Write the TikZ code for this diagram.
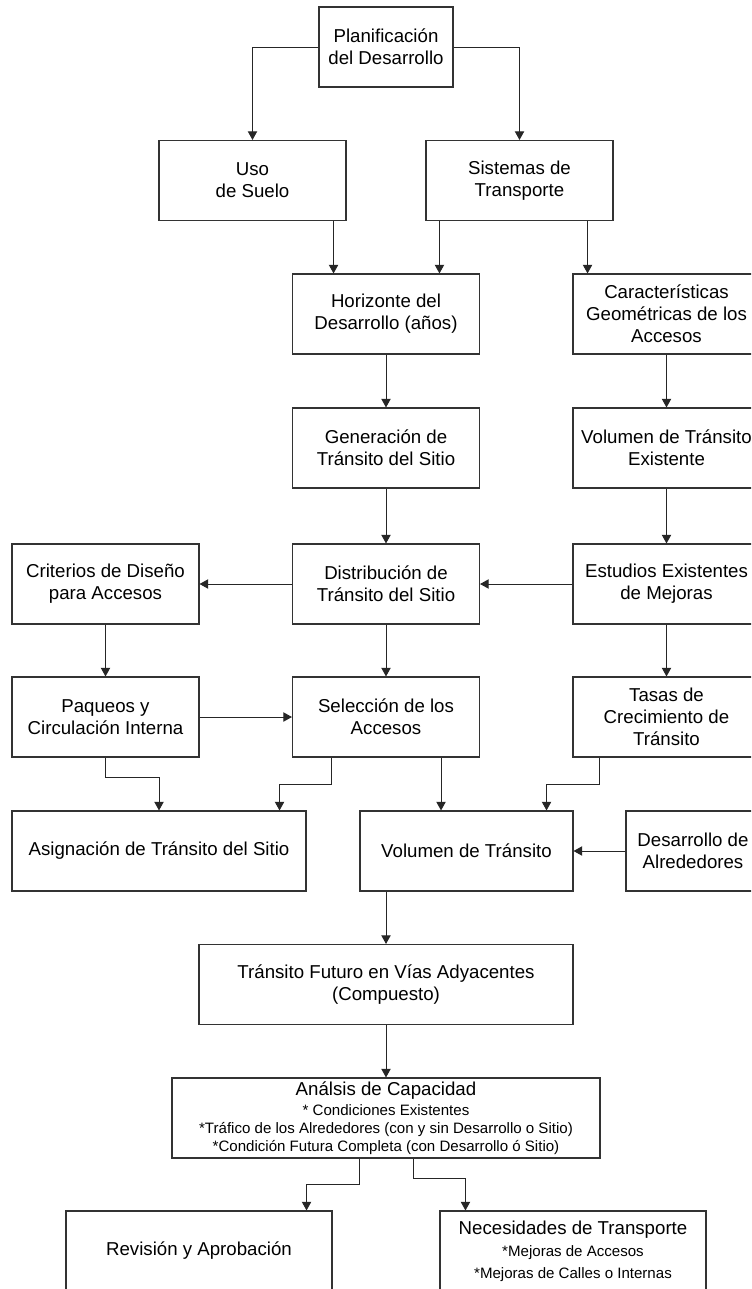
\documentclass[tikz,border=0pt]{standalone}
\usepackage{fontspec}
\setmainfont{Liberation Sans}
\usetikzlibrary{arrows.meta,calc}

\newcommand{\chica}{\fontsize{11.3}{13.5}\selectfont}

\tikzset{
  caja/.style={draw=black!80, line width=0.8pt, rectangle, align=center, inner sep=0pt,
    minimum height=60pt, font=\fontsize{14}{16.5}\selectfont},
  flecha/.style={draw=black!85, line width=0.75pt, -{Triangle[length=6.5pt,width=7pt]}},
}

\begin{document}
\begin{tikzpicture}[x=0.75pt,y=-0.75pt]
    \useasboundingbox (0,0) rectangle (751,1289);
    \clip (0,0) rectangle (751,1289);
    \node[caja, minimum width=100.5pt] (plan) at (386,47) {Planificación\\del Desarrollo};
    \node[caja, minimum width=140.25pt] (uso) at (252.5,180.5) {Uso\\de Suelo};
    \node[caja, minimum width=140.25pt] (sist) at (519.5,180.5) {Sistemas de\\Transporte};
    \node[caja, minimum width=140.25pt] (hori) at (386,314) {Horizonte del\\Desarrollo (años)};
    \node[caja, minimum width=140.25pt] (cara) at (666.5,314) {Características\\Geométricas de los\\Accesos};
    \node[caja, minimum width=140.25pt] (gene) at (386,448) {Generación de\\Tránsito del Sitio};
    \node[caja, minimum width=140.25pt] (vole) at (666.5,448) {Volumen de Tránsito\\Existente};
    \node[caja, minimum width=140.25pt] (crit) at (105.5,584) {Criterios de Diseño\\para Accesos};
    \node[caja, minimum width=140.25pt] (dist) at (386,584) {Distribución de\\Tránsito del Sitio};
    \node[caja, minimum width=140.25pt] (estu) at (666.5,584) {Estudios Existentes\\de Mejoras};
    \node[caja, minimum width=140.25pt] (paq) at (105.5,717) {Paqueos y\\Circulación Interna};
    \node[caja, minimum width=140.25pt] (sel) at (386,717) {Selección de los\\Accesos};
    \node[caja, minimum width=140.25pt] (tasa) at (666.5,717) {Tasas de\\Crecimiento de\\Tránsito};
    \node[caja, minimum width=220.5pt] (asig) at (159,851) {Asignación de Tránsito del Sitio};
    \node[caja, minimum width=159.75pt] (vol) at (466.5,851) {Volumen de Tránsito};
    \node[caja, minimum width=100.5pt] (desa) at (693,851) {Desarrollo de\\Alrededores};
    \node[caja, minimum width=280.5pt] (fut) at (386,984.5) {Tránsito Futuro en Vías Adyacentes\\(Compuesto)};
    \node[caja, minimum width=321pt, font=\chica] (anal) at (386,1118)
      {{\fontsize{14}{16.5}\selectfont Análsis de Capacidad}\\[1.5pt]
       * Condiciones Existentes\\
       *Tráfico de los Alrededores (con y sin Desarrollo o Sitio)\\
       *Condición Futura Completa (con Desarrollo ó Sitio)};
    \node[caja, minimum width=199.5pt] (rev) at (199,1251) {Revisión y Aprobación};
    \node[caja, minimum width=199.5pt] (nec) at (573,1251)
      {Necesidades de Transporte\\{\chica *Mejoras de Accesos}\\{\chica *Mejoras de Calles o Internas}};

    \coordinate (usoA) at ($(uso.south east)+(-13,0)$);
    \coordinate (sisA) at ($(sist.south west)+(14,0)$);
    \coordinate (sisB) at ($(sist.south east)+(-26,0)$);
    \coordinate (selA) at ($(sel.south west)+(40,0)$);
    \coordinate (selB) at ($(sel.south east)+(-39,0)$);
    \coordinate (tasA) at ($(tasa.south west)+(27,0)$);
    \coordinate (asigA) at ($(asig.north east)+(-27,0)$);
    \coordinate (volA) at ($(vol.north east)+(-27,0)$);
    \coordinate (analA) at ($(anal.south west)+(188,0)$);
    \coordinate (analB) at ($(anal.south east)+(-187,0)$);
    \coordinate (revA) at ($(rev.north east)+(-26,0)$);
    \coordinate (necA) at ($(nec.north west)+(26,0)$);

    \draw[flecha] (plan.west) -| (uso.north);
    \draw[flecha] (plan.east) -| (sist.north);
    \draw[flecha] (usoA) -- (usoA |- hori.north);
    \draw[flecha] (sisA) -- (sisA |- hori.north);
    \draw[flecha] (sisB) -- (sisB |- cara.north);
    \draw[flecha] (hori) -- (gene);
    \draw[flecha] (cara) -- (vole);
    \draw[flecha] (gene) -- (dist);
    \draw[flecha] (vole) -- (estu);
    \draw[flecha] (dist) -- (crit);
    \draw[flecha] (estu) -- (dist);
    \draw[flecha] (crit) -- (paq);
    \draw[flecha] (dist) -- (sel);
    \draw[flecha] (estu) -- (tasa);
    \draw[flecha] (paq) -- (sel);
    \draw[flecha] (paq.south) -- ++(0,20) -| (asig.north);
    \draw[flecha] (selA) -- ++(0,27) -| (asigA);
    \draw[flecha] (selB) -- (selB |- vol.north);
    \draw[flecha] (tasA) -- ++(0,27) -| (volA);
    \draw[flecha] (desa) -- (vol);
    \draw[flecha] (vol.south -| fut.north) -- (fut.north);
    \draw[flecha] (fut) -- (anal);
    \draw[flecha] (analA) -- ++(0,26) -| (revA);
    \draw[flecha] (analB) -- ++(0,20) -| (necA);
\end{tikzpicture}
\end{document}
